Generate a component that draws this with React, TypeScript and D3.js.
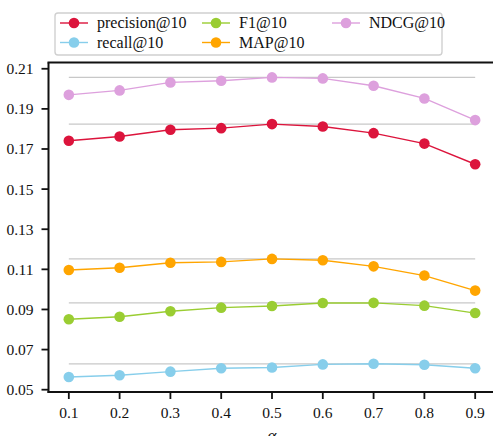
import React from "react";
import * as d3 from "d3";

const alphas = [0.1, 0.2, 0.3, 0.4, 0.5, 0.6, 0.7, 0.8, 0.9];
const precision = [0.1741, 0.1762, 0.1796, 0.1804, 0.1824, 0.1812, 0.1779, 0.1727, 0.1624];
const recall = [0.0563, 0.0572, 0.059, 0.0607, 0.0611, 0.0626, 0.0629, 0.0624, 0.0607];
const f1 = [0.0851, 0.0864, 0.0891, 0.0909, 0.0917, 0.0932, 0.0933, 0.0919, 0.0882];
const mapv = [0.1097, 0.1108, 0.1133, 0.1137, 0.1152, 0.1145, 0.1115, 0.1069, 0.0994];
const ndcg = [0.197, 0.1992, 0.2032, 0.204, 0.2057, 0.2052, 0.2015, 0.1952, 0.1844];
const yTicks = [0.05, 0.07, 0.09, 0.11, 0.13, 0.15, 0.17, 0.19, 0.21];
const seriesNames = ["precision@10", "recall@10", "F1@10", "MAP@10", "NDCG@10"];
const seriesColors = ["#DC143C", "#87CEEB", "#9ACD32", "#FFA500", "#DDA0DD"];

const series = [precision, recall, f1, mapv, ndcg];
const FONT = "Liberation Serif";

export default function App() {
  const W = 493, H = 436;
  const left = 48.5, right = 495.5, top = 62.5, bottom = 392;
  const x = d3.scaleLinear().domain([0.06, 0.94]).range([left, right]);
  const y = d3.scaleLinear().domain([0.04885, 0.21312]).range([bottom, top]);
  const line = d3.line<number>().x((_, i) => x(alphas[i])).y((d) => y(d));

  const drawOrder = [4, 0, 3, 2, 1];
  const legendItems = [
    { i: 0, lx: 60, ly: 23 },
    { i: 1, lx: 60, ly: 42.5 },
    { i: 2, lx: 202, ly: 23 },
    { i: 3, lx: 202, ly: 42.5 },
    { i: 4, lx: 332, ly: 23 },
  ];

  return (
    <svg width={W} height={H} style={{ position: "absolute", left: 0, top: 0, background: "#fff" }}>
      {series.map((s, k) => {
        const m = d3.max(s) as number;
        return (
          <line key={"ref" + k} x1={x(alphas[0])} x2={x(alphas[alphas.length - 1])} y1={y(m)} y2={y(m)} stroke="#c8c8c8" strokeWidth={1.3} />
        );
      })}
      {drawOrder.map((k) => (
        <g key={"s" + k}>
          <path d={line(series[k]) || ""} fill="none" stroke={seriesColors[k]} strokeWidth={1.4} />
          {series[k].map((v, i) => (
            <circle key={i} cx={x(alphas[i])} cy={y(v)} r={5.3} fill={seriesColors[k]} />
          ))}
        </g>
      ))}
      <line x1={left} x2={left} y1={top} y2={bottom + 1} stroke="#111" strokeWidth={2} />
      <line x1={left - 1} x2={W} y1={top} y2={top} stroke="#111" strokeWidth={2} />
      <line x1={left - 1} x2={W} y1={bottom} y2={bottom} stroke="#111" strokeWidth={2} />
      {yTicks.map((t) => (
        <g key={"yt" + t}>
          <line x1={left - 7} x2={left} y1={y(t)} y2={y(t)} stroke="#111" strokeWidth={1.8} />
          <text x={33.5} y={y(t) + 5.5} textAnchor="end" fontSize={15.5} fill="#111" fontFamily={FONT}>
            {d3.format(".2f")(t)}
          </text>
        </g>
      ))}
      {alphas.map((t) => (
        <g key={"xt" + t}>
          <line x1={x(t)} x2={x(t)} y1={bottom} y2={bottom + 7} stroke="#111" strokeWidth={1.8} />
          <text x={x(t)} y={418} textAnchor="middle" fontSize={15.5} fill="#111" fontFamily={FONT}>
            {d3.format(".1f")(t)}
          </text>
        </g>
      ))}
      <text x={(left + right) / 2} y={441} textAnchor="middle" fontSize={17} fontStyle="italic" fill="#111" fontFamily={FONT}>
        α
      </text>
      <rect x={55} y={13} width={387} height={42} rx={3} fill="#fff" stroke="#d0d0d0" strokeWidth={1.4} />
      {legendItems.map(({ i, lx, ly }) => (
        <g key={"lg" + i}>
          <line x1={lx} x2={lx + 28} y1={ly} y2={ly} stroke={seriesColors[i]} strokeWidth={1.4} />
          <circle cx={lx + 14} cy={ly} r={5.3} fill={seriesColors[i]} />
          <text x={lx + 37} y={ly + 5.3} fontSize={16} fill="#111" fontFamily={FONT}>
            {seriesNames[i]}
          </text>
        </g>
      ))}
    </svg>
  );
}
